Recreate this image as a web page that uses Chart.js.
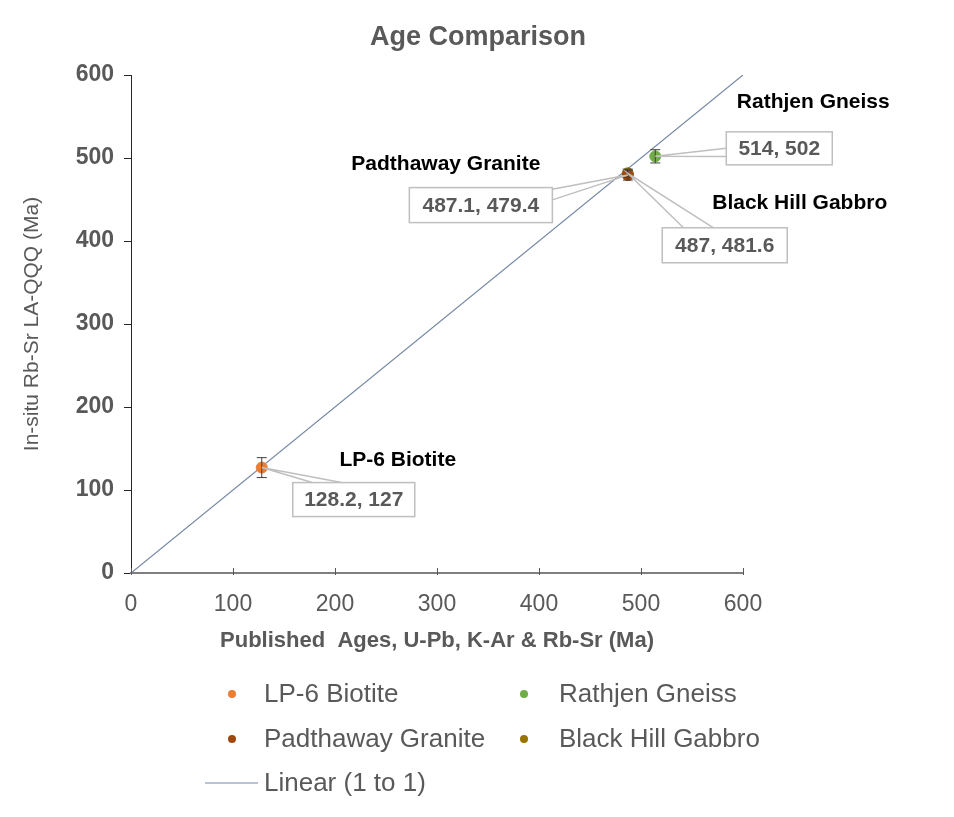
<!DOCTYPE html>
<html>
<head>
<meta charset="utf-8">
<script src="https://cdn.jsdelivr.net/npm/chart.js@4"></script>
<style>
  html, body { margin: 0; padding: 0; background: #fff; }
  #wrap { width: 954px; height: 817px; }
</style>
</head>
<body>
<div id="wrap"><canvas id="ageChart" width="954" height="817"></canvas></div>
<script>
let seriesNames = ['LP-6 Biotite', 'Rathjen Gneiss', 'Padthaway Granite', 'Black Hill Gabbro'];
let publishedAges = [128.2, 514, 487.1, 487];
let rbSrAges = [127, 502, 479.4, 481.6];
let rbSrErrors = [12, 8, 6, 5];
let seriesColors = ['#ED7D31', '#70AD47', '#9E480E', '#997300'];
let valueLabels = ['128.2, 127', '514, 502', '487.1, 479.4', '487, 481.6'];
let lineX = [0, 600];
let lineY = [0, 600];
let axisTicks = [0, 100, 200, 300, 400, 500, 600];

const grey = '#595959';
const fontName = '"Liberation Sans", Arial, sans-serif';

// callout placement relative to each point (px): name offset, box [dx, dy, w, h], wedge side + fractions
let calloutPos = [
  { name: [136, -7], box: [92, 32, 122, 34], side: 'top', f: [0.16, 0.40] },
  { name: [158, -54], box: [124, -8, 106, 33], side: 'left', f: [0.5, 0.75] },
  { name: [-182, -11], box: [-147, 30, 143, 35], side: 'right', f: [0.05, 0.35] },
  { name: [172, 30], box: [97, 72, 125, 35], side: 'top', f: [0.17, 0.41] }
];

let datasets = seriesNames.map((name, i) => ({
  type: 'scatter',
  label: name,
  data: [{ x: publishedAges[i], y: rbSrAges[i] }],
  backgroundColor: seriesColors[i],
  borderColor: seriesColors[i],
  pointRadius: 5.5,
  pointHoverRadius: 5.5
}));

datasets.push({
  type: 'line',
  label: 'Linear (1 to 1)',
  data: lineX.map((x, i) => ({ x: x, y: lineY[i] })),
  borderColor: '#7487a3',
  borderWidth: 1.2,
  pointRadius: 0,
  fill: false
});

const extras = {
  id: 'extras',
  afterDatasetsDraw(chart) {
    let ctx = chart.ctx;
    let xs = chart.scales.x, ys = chart.scales.y;
    ctx.save();

    // inward x ticks
    ctx.strokeStyle = grey;
    ctx.lineWidth = 1;
    axisTicks.forEach(t => {
      let px = Math.round(xs.getPixelForValue(t)) + 0.5;
      ctx.beginPath();
      ctx.moveTo(px, 575);
      ctx.lineTo(px, 568);
      ctx.stroke();
    });

    // error bars
    ctx.strokeStyle = '#404040';
    ctx.lineWidth = 1;
    seriesNames.forEach((n, i) => {
      let px = xs.getPixelForValue(publishedAges[i]);
      let top = ys.getPixelForValue(rbSrAges[i] + rbSrErrors[i]);
      let bot = ys.getPixelForValue(rbSrAges[i] - rbSrErrors[i]);
      ctx.beginPath();
      ctx.moveTo(px, top); ctx.lineTo(px, bot);
      ctx.moveTo(px - 5, top); ctx.lineTo(px + 5, top);
      ctx.moveTo(px - 5, bot); ctx.lineTo(px + 5, bot);
      ctx.stroke();
    });

    // callouts
    seriesNames.forEach((n, i) => {
      let px = xs.getPixelForValue(publishedAges[i]);
      let py = ys.getPixelForValue(rbSrAges[i]);
      let c = calloutPos[i];
      let [bx, by, bw, bh] = c.box;
      let left = px + bx - bw / 2, top = py + by - bh / 2;
      let a, b;
      if (c.side === 'top') {
        a = [left + bw * c.f[0], top]; b = [left + bw * c.f[1], top];
      } else if (c.side === 'left') {
        a = [left, top + bh * c.f[0]]; b = [left, top + bh * c.f[1]];
      } else {
        a = [left + bw, top + bh * c.f[0]]; b = [left + bw, top + bh * c.f[1]];
      }
      ctx.strokeStyle = '#bfbfbf';
      ctx.lineWidth = 1.5;
      ctx.beginPath();
      ctx.moveTo(a[0], a[1]); ctx.lineTo(px, py); ctx.lineTo(b[0], b[1]);
      ctx.stroke();
      ctx.fillStyle = '#fff';
      ctx.fillRect(left, top, bw, bh);
      ctx.strokeRect(left, top, bw, bh);
      ctx.fillStyle = grey;
      ctx.font = 'bold 21px ' + fontName;
      ctx.textAlign = 'center';
      ctx.textBaseline = 'middle';
      ctx.fillText(valueLabels[i], left + bw / 2, top + bh / 2 + 1);

      ctx.fillStyle = '#000';
      ctx.font = 'bold 21px ' + fontName;
      ctx.fillText(n, px + c.name[0], py + c.name[1]);
    });

    // title
    ctx.fillStyle = grey;
    ctx.font = 'bold 27px ' + fontName;
    ctx.textAlign = 'center';
    ctx.textBaseline = 'middle';
    ctx.fillText('Age Comparison', 478, 38);

    // legend
    let rows = [694, 739];
    let cols = [[232, 264], [524, 559]];
    ctx.font = '26px ' + fontName;
    ctx.textAlign = 'left';
    seriesNames.forEach((n, i) => {
      let r = rows[Math.floor(i / 2)], c = cols[i % 2];
      ctx.fillStyle = seriesColors[i];
      ctx.beginPath();
      ctx.arc(c[0], r, 4, 0, Math.PI * 2);
      ctx.fill();
      ctx.fillStyle = grey;
      ctx.fillText(n, c[1], r + 1);
    });
    ctx.strokeStyle = '#7487a3';
    ctx.lineWidth = 1.2;
    ctx.beginPath();
    ctx.moveTo(205, 783); ctx.lineTo(258, 783);
    ctx.stroke();
    ctx.fillStyle = grey;
    ctx.fillText('Linear (1 to 1)', 264, 784);
    ctx.restore();
  }
};

let ctx = document.getElementById('ageChart').getContext('2d');

let chart = new Chart(ctx, {
  data: { datasets: datasets },
  options: {
    responsive: false,
    animation: false,
    layout: { padding: { top: 75, right: 211, bottom: 162, left: 0 } },
    plugins: {
      legend: { display: false },
      title: { display: false },
      tooltip: { enabled: false }
    },
    scales: {
      x: {
        type: 'linear',
        min: 0, max: 600,
        afterFit: s => { s.height = 82; },
        afterBuildTicks: s => { s.ticks = axisTicks.map(v => ({ value: v })); },
        grid: { display: true, drawOnChartArea: false, drawTicks: false },
        border: { display: true, color: '#7f7f7f', width: 2 },
        ticks: { color: grey, font: { family: fontName, size: 23 }, padding: 18 },
        title: {
          display: true,
          text: 'Published  Ages, U-Pb, K-Ar & Rb-Sr (Ma)',
          color: grey,
          font: { family: fontName, size: 22, weight: 'bold' },
          padding: { top: 0, bottom: 1 }
        }
      },
      y: {
        type: 'linear',
        min: 0, max: 600,
        afterFit: s => { s.width = 131; },
        afterBuildTicks: s => { s.ticks = axisTicks.map(v => ({ value: v })); },
        grid: { display: true, drawOnChartArea: false, drawTicks: true, tickLength: 7, color: '#262626' },
        border: { display: true, color: '#262626', width: 1 },
        ticks: { color: grey, font: { family: fontName, size: 23, weight: 'bold' }, padding: 10 },
        title: {
          display: true,
          text: 'In-situ Rb-Sr LA-QQQ (Ma)',
          color: grey,
          font: { family: fontName, size: 21 },
          padding: { top: 20, bottom: 0 }
        }
      }
    }
  },
  plugins: [extras]
});
</script>
</body>
</html>
